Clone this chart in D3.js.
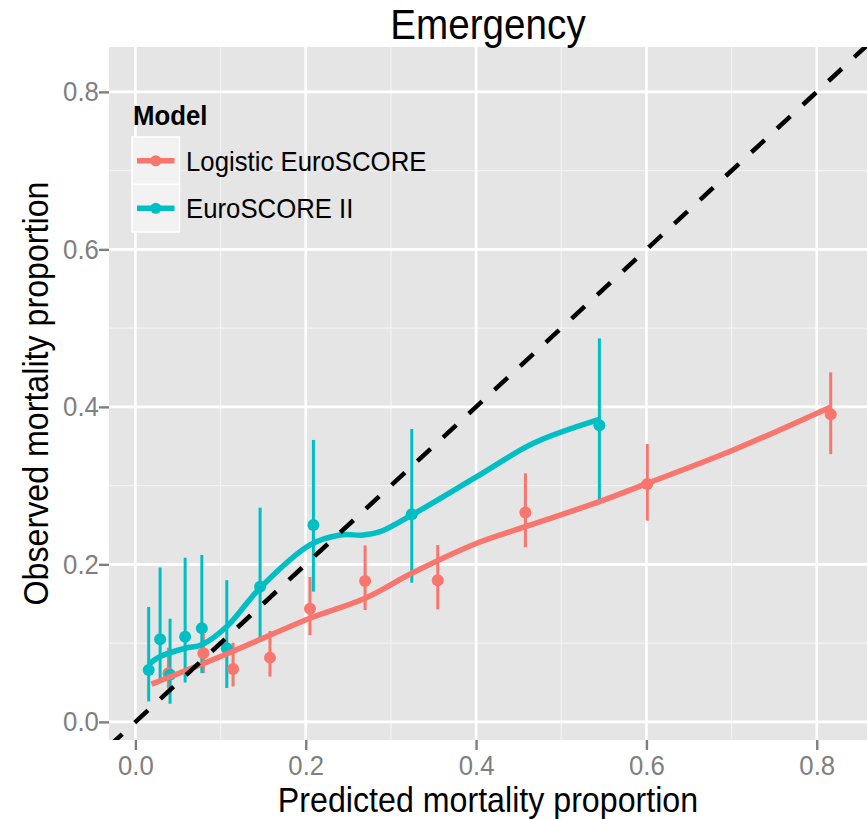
<!DOCTYPE html>
<html>
<head>
<meta charset="utf-8">
<script src="https://cdn.jsdelivr.net/npm/d3@7/dist/d3.min.js"></script>
<style>
  body { margin: 0; background: #fff; }
  text { font-family: "Liberation Sans", Arial, Helvetica, sans-serif; }
</style>
</head>
<body>
<div id="chart"></div>
<script>
const models = ["Logistic EuroSCORE", "EuroSCORE II"];
const colours = ["#F8766D", "#00BFC4"];

// Logistic EuroSCORE: predicted vs observed, with 95% interval
const logPred = [0.0388, 0.0798, 0.1147, 0.158, 0.205, 0.2697, 0.355, 0.4579, 0.601, 0.8164];
const logObs  = [0.0618, 0.0872, 0.0673, 0.0816, 0.1438, 0.179, 0.180, 0.266, 0.302, 0.3905];
const logLo   = [0.042, 0.062, 0.045, 0.0575, 0.110, 0.142, 0.143, 0.2217, 0.2555, 0.340];
const logHi   = [0.094, 0.112, 0.1006, 0.1155, 0.184, 0.224, 0.2246, 0.3157, 0.3528, 0.4438];

// EuroSCORE II
const es2Pred = [0.0156, 0.029, 0.0407, 0.0584, 0.078, 0.1073, 0.1464, 0.209, 0.3245, 0.5448];
const es2Obs  = [0.066, 0.105, 0.060, 0.108, 0.119, 0.0935, 0.1717, 0.250, 0.2636, 0.3766];
const es2Lo   = [0.026, 0.05, 0.023, 0.050, 0.062, 0.043, 0.106, 0.1654, 0.1768, 0.2796];
const es2Hi   = [0.146, 0.196, 0.131, 0.2085, 0.212, 0.180, 0.272, 0.358, 0.372, 0.487];

// smoothed calibration curves
const logSmoothX = [0.019, 0.1, 0.205, 0.2697, 0.3245, 0.4008, 0.4579, 0.5448, 0.6011, 0.702, 0.8164];
const logSmoothY = [0.048, 0.083, 0.1316, 0.157, 0.1887, 0.2268, 0.2479, 0.2796, 0.3029, 0.3452, 0.400];
const es2SmoothX = [0.0156, 0.029, 0.0584, 0.078, 0.1073, 0.1464, 0.205, 0.2403, 0.2677, 0.2873, 0.3245, 0.4008, 0.4673, 0.5448];
const es2SmoothY = [0.073, 0.083, 0.0935, 0.098, 0.121, 0.170, 0.2247, 0.2373, 0.2373, 0.2415, 0.2627, 0.3113, 0.3537, 0.384];

const xTicks = [0, 0.2, 0.4, 0.6, 0.8];
const yTicks = [0, 0.2, 0.4, 0.6, 0.8];
const xMinor = [0.1, 0.3, 0.5, 0.7];
const yMinor = [0.1, 0.3, 0.5, 0.7];

const W = 867, H = 819;
const panel = { left: 109, right: 867, top: 47, bottom: 740 };
const squeeze = 0.92; // glyphs in the original are slightly narrow

const x = d3.scaleLinear().domain([-0.031, 0.859]).range([panel.left, panel.right]);
const y = d3.scaleLinear().domain([-0.023, 0.857]).range([panel.bottom, panel.top]);

const series = [
  { name: models[0], colour: colours[0],
    pts: logPred.map((p, i) => ({ p, o: logObs[i], lo: logLo[i], hi: logHi[i] })),
    smooth: logSmoothX.map((v, i) => [v, logSmoothY[i]]) },
  { name: models[1], colour: colours[1],
    pts: es2Pred.map((p, i) => ({ p, o: es2Obs[i], lo: es2Lo[i], hi: es2Hi[i] })),
    smooth: es2SmoothX.map((v, i) => [v, es2SmoothY[i]]) }
];

const svg = d3.select("#chart").append("svg")
  .attr("width", W)
  .attr("height", H);

svg.append("rect").attr("width", W).attr("height", H).attr("fill", "#fff");

svg.append("clipPath").attr("id", "clip")
  .append("rect")
  .attr("x", panel.left).attr("y", panel.top)
  .attr("width", panel.right - panel.left)
  .attr("height", panel.bottom - panel.top);

svg.append("rect")
  .attr("x", panel.left).attr("y", panel.top)
  .attr("width", panel.right - panel.left)
  .attr("height", panel.bottom - panel.top)
  .attr("fill", "#E5E5E5");

// grid
const grid = svg.append("g");
grid.selectAll(".vminor").data(xMinor).join("line")
  .attr("x1", d => x(d)).attr("x2", d => x(d))
  .attr("y1", panel.top).attr("y2", panel.bottom)
  .attr("stroke", "#F2F2F2").attr("stroke-width", 1.3);
grid.selectAll(".hminor").data(yMinor).join("line")
  .attr("y1", d => y(d)).attr("y2", d => y(d))
  .attr("x1", panel.left).attr("x2", panel.right)
  .attr("stroke", "#F2F2F2").attr("stroke-width", 1.3);
grid.selectAll(".vmajor").data(xTicks).join("line")
  .attr("x1", d => x(d)).attr("x2", d => x(d))
  .attr("y1", panel.top).attr("y2", panel.bottom)
  .attr("stroke", "#fff").attr("stroke-width", 2.6);
grid.selectAll(".hmajor").data(yTicks).join("line")
  .attr("y1", d => y(d)).attr("y2", d => y(d))
  .attr("x1", panel.left).attr("x2", panel.right)
  .attr("stroke", "#fff").attr("stroke-width", 2.6);

const plot = svg.append("g").attr("clip-path", "url(#clip)");

// error bars
series.forEach(s => {
  plot.append("g").selectAll("line").data(s.pts).join("line")
    .attr("x1", d => x(d.p)).attr("x2", d => x(d.p))
    .attr("y1", d => y(d.lo)).attr("y2", d => y(d.hi))
    .attr("stroke", s.colour).attr("stroke-width", 3);
});

// points
series.forEach(s => {
  plot.append("g").selectAll("circle").data(s.pts).join("circle")
    .attr("cx", d => x(d.p)).attr("cy", d => y(d.o))
    .attr("r", 6)
    .attr("fill", s.colour);
});

// smooth lines
const line = d3.line()
  .x(d => x(d[0]))
  .y(d => y(d[1]))
  .curve(d3.curveCatmullRom.alpha(0.5));

series.forEach(s => {
  plot.append("path")
    .datum(s.smooth)
    .attr("d", line)
    .attr("fill", "none")
    .attr("stroke", s.colour)
    .attr("stroke-width", 5.5);
});

// identity line
const dom = x.domain();
plot.append("line")
  .attr("x1", x(dom[0])).attr("y1", y(dom[0]))
  .attr("x2", x(dom[1])).attr("y2", y(dom[1]))
  .attr("stroke", "#000")
  .attr("stroke-width", 4.5)
  .attr("stroke-dasharray", "18,17");

// axes
const fmt = d3.format(".1f");
const xAxis = svg.append("g")
  .attr("transform", `translate(0,${panel.bottom})`)
  .call(d3.axisBottom(x).tickValues(xTicks).tickFormat(fmt).tickSize(10).tickPadding(5));
const yAxis = svg.append("g")
  .attr("transform", `translate(${panel.left},0)`)
  .call(d3.axisLeft(y).tickValues(yTicks).tickFormat(fmt).tickSize(10).tickPadding(1));

[xAxis, yAxis].forEach(a => {
  a.select(".domain").remove();
  a.selectAll(".tick line").attr("stroke", "#7F7F7F").attr("stroke-width", 2.4);
  a.selectAll(".tick text")
    .attr("fill", "#7F7F7F")
    .style("font-size", "28px")
    .attr("transform", `scale(${squeeze},1)`);
});

function label(txt, px, py, size, opts = {}) {
  return svg.append("text")
    .attr("transform", `translate(${px},${py}) ${opts.rotate ? "rotate(-90)" : ""} scale(${squeeze},1)`)
    .attr("text-anchor", opts.anchor || "middle")
    .style("font-size", size + "px")
    .style("font-weight", opts.bold ? "bold" : null)
    .attr("fill", opts.fill || "#000")
    .text(txt);
}

const cx = (panel.left + panel.right) / 2;
label("Emergency", cx, 39, 42);
label("Predicted mortality proportion", cx, 812, 35);
label("Observed mortality proportion", 48, (panel.top + panel.bottom) / 2, 35, { rotate: true });

// legend
const legend = svg.append("g").attr("transform", "translate(132,137)");
label("Model", 133, 125, 28, { anchor: "start", bold: true });
const keySize = 47.5;
const keys = legend.selectAll("g").data(series).join("g")
  .attr("transform", (d, i) => `translate(0,${i * keySize})`);
keys.append("rect")
  .attr("width", keySize).attr("height", keySize)
  .attr("fill", "#F2F2F2").attr("stroke", "#fff").attr("stroke-width", 1.5);
keys.append("line")
  .attr("x1", 5).attr("x2", keySize - 5)
  .attr("y1", keySize / 2).attr("y2", keySize / 2)
  .attr("stroke", d => d.colour).attr("stroke-width", 5.5);
keys.append("circle")
  .attr("cx", keySize / 2).attr("cy", keySize / 2).attr("r", 5.5)
  .attr("fill", d => d.colour);
keys.append("text")
  .attr("transform", `translate(54,${keySize / 2 + 10}) scale(${squeeze},1)`)
  .style("font-size", "28px")
  .text(d => d.name);
</script>
</body>
</html>
